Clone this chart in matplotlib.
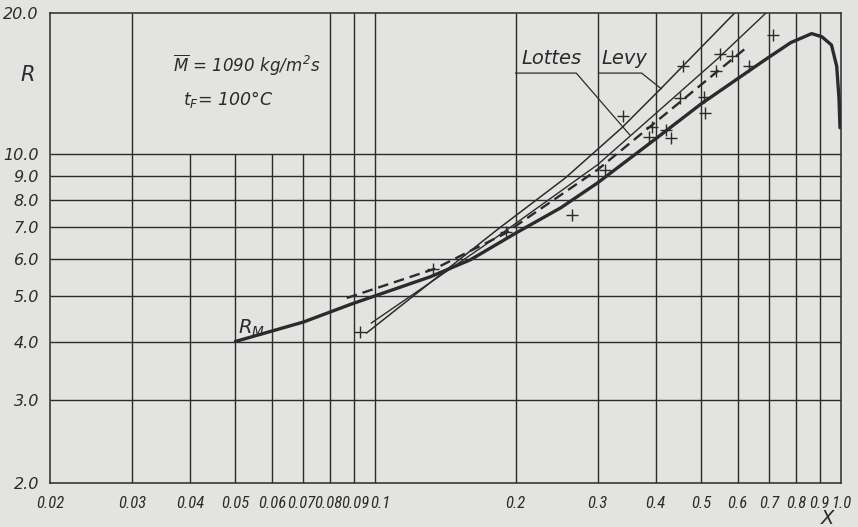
import matplotlib.pyplot as plt
from matplotlib import font_manager as fm
from matplotlib.transforms import ScaledTranslation
from matplotlib.ticker import NullLocator, NullFormatter

# curves (X, R)
rm_x = [0.05, 0.07, 0.089, 0.131, 0.16, 0.2, 0.25, 0.3, 0.4, 0.5, 0.6, 0.69, 0.78, 0.865, 0.91, 0.954, 0.979, 0.99, 0.995]
rm_r = [4.0, 4.4, 4.81, 5.49, 5.97, 6.8, 7.7, 8.7, 10.8, 12.8, 14.5, 15.95, 17.3, 18.08, 17.8, 17.1, 15.4, 13.2, 11.4]

lottes_x = [0.098, 0.182, 0.3, 0.353, 0.542, 0.69]
lottes_r = [4.38, 6.67, 9.51, 10.96, 15.95, 20.0]

levy_x = [0.0957, 0.182, 0.256, 0.338, 0.41, 0.591]
levy_r = [4.17, 6.9, 8.92, 11.39, 13.8, 20.0]

dashed_x = [0.0868, 0.134, 0.1887, 0.3, 0.461, 0.62]
dashed_r = [4.95, 5.71, 6.77, 9.28, 13.16, 16.74]

meas_x = [0.0925, 0.133, 0.191, 0.264, 0.312, 0.341, 0.386, 0.393, 0.421, 0.432,
          0.452, 0.457, 0.508, 0.51, 0.54, 0.55, 0.582, 0.635, 0.716]
meas_r = [4.19, 5.71, 6.83, 7.43, 9.28, 12.06, 10.9, 11.44, 11.28, 10.85,
          13.16, 15.4, 13.28, 12.24, 15.06, 16.34, 16.2, 15.4, 18.0]

x_ticks = [0.02, 0.03, 0.04, 0.05, 0.06, 0.07, 0.08, 0.09, 0.1,
           0.2, 0.3, 0.4, 0.5, 0.6, 0.7, 0.8, 0.9, 1.0]
x_labels = ["0.02", "0.03", "0.04", "0.05", "0.06", "0.07", "0.08", "0.09", "0.1",
            "0.2", "0.3", "0.4", "0.5", "0.6", "0.7", "0.8", "0.9", "1.0"]
y_ticks = [2, 3, 4, 5, 6, 7, 8, 9, 10, 20]
y_labels = ["2.0", "3.0", "4.0", "5.0", "6.0", "7.0", "8.0", "9.0", "10.0", "20.0"]

PAPER = "#e3e3e1"
INK = "#2b2b2b"

plt.rcParams["font.family"] = ["DejaVu Sans"]
plt.rcParams["font.style"] = "italic"


def tick_font():
    # the scan uses a condensed italic face; take one if any is installed
    names = {f.name for f in fm.fontManager.ttflist}
    for n in ["Liberation Sans Narrow", "DejaVu Sans Condensed", "Roboto Condensed",
              "Open Sans Condensed", "Noto Sans Condensed", "Arial Narrow"]:
        if n in names:
            return fm.FontProperties(family=n, style="italic", size=12)
    return fm.FontProperties(family="DejaVu Sans", style="italic", size=8)


fig = plt.figure(figsize=(8.58, 5.27), dpi=100, facecolor=PAPER)
ax = fig.add_axes([50 / 858, 44 / 527, 791 / 858, 470 / 527])
ax.set_facecolor(PAPER)
ax.set_xscale("log")
ax.set_yscale("log")
ax.set_xlim(0.02, 1.0)
ax.set_ylim(2, 20)

# grid: 0.04..0.07 only run up to R = 10
short = [0.04, 0.05, 0.06, 0.07]
full = [v for v in x_ticks[1:-1] if v not in short]
ax.vlines(full, 2, 20, color=INK, lw=1.0, zorder=1)
ax.vlines(short, 2, 10, color=INK, lw=1.0, zorder=1)
ax.hlines(y_ticks[1:-1], 0.02, 1.0, color=INK, lw=1.0, zorder=1)

ax.set_xticks(x_ticks)
ax.set_xticklabels(x_labels, fontproperties=tick_font(), color=INK)
ax.set_yticks(y_ticks)
ax.set_yticklabels(y_labels, fontsize=11.5, color=INK)
for axis in (ax.xaxis, ax.yaxis):
    axis.set_minor_locator(NullLocator())
    axis.set_minor_formatter(NullFormatter())
ax.tick_params(length=0)
ax.tick_params(axis="x", pad=9)
ax.tick_params(axis="y", pad=8)
for s in ax.spines.values():
    s.set_color(INK)
    s.set_linewidth(1.1)

# the crowded labels near 0.1 are nudged apart, as in the scan (pixels)
nudge = {"0.07": -1.5, "0.08": -2, "0.09": 1.5, "0.1": 5}
for lab in ax.get_xticklabels():
    dx = nudge.get(lab.get_text())
    if dx:
        lab.set_transform(lab.get_transform() + ScaledTranslation(dx / 100, 0, fig.dpi_scale_trans))

ax.plot(rm_x, rm_r, color=INK, lw=2.4, solid_capstyle="round", zorder=3)
ax.plot(lottes_x, lottes_r, color=INK, lw=1.0, zorder=3)
ax.plot(levy_x, levy_r, color=INK, lw=1.1, zorder=3)
ax.plot(dashed_x, dashed_r, color=INK, lw=1.7, dashes=(4.5, 2.5), zorder=3)
ax.plot(meas_x, meas_r, linestyle="none", marker="+", ms=9, mew=1.0, color=INK, zorder=4)

# labels with leader lines
ax.text(0.206, 16.0, "Lottes", fontsize=14, color=INK, va="center")
ax.plot([0.2, 0.27, 0.352], [14.9, 14.9, 11.0], color=INK, lw=0.9)
ax.text(0.306, 16.0, "Levy", fontsize=14, color=INK, va="center")
ax.plot([0.302, 0.373, 0.411], [14.9, 14.9, 13.8], color=INK, lw=0.9)

ax.text(0.0367, 15.5, r"$\overline{M}$ = 1090 $kg/m^2s$", fontsize=12, color=INK, va="center")
ax.text(0.0386, 13.06, r"$t_F$= 100°C", fontsize=12.5, color=INK, va="center")
ax.text(0.0507, 4.27, r"$R_{\mathrm{M}}$", fontsize=14, color=INK, va="center")

fig.text(28 / 858, 1 - 75 / 527, "R", fontsize=15, color=INK, ha="center", va="center")
fig.text(828 / 858, 1 - 518 / 527, "X", fontsize=14, color=INK, ha="center", va="center")

fig.savefig("out.png", dpi=100, facecolor=PAPER)
